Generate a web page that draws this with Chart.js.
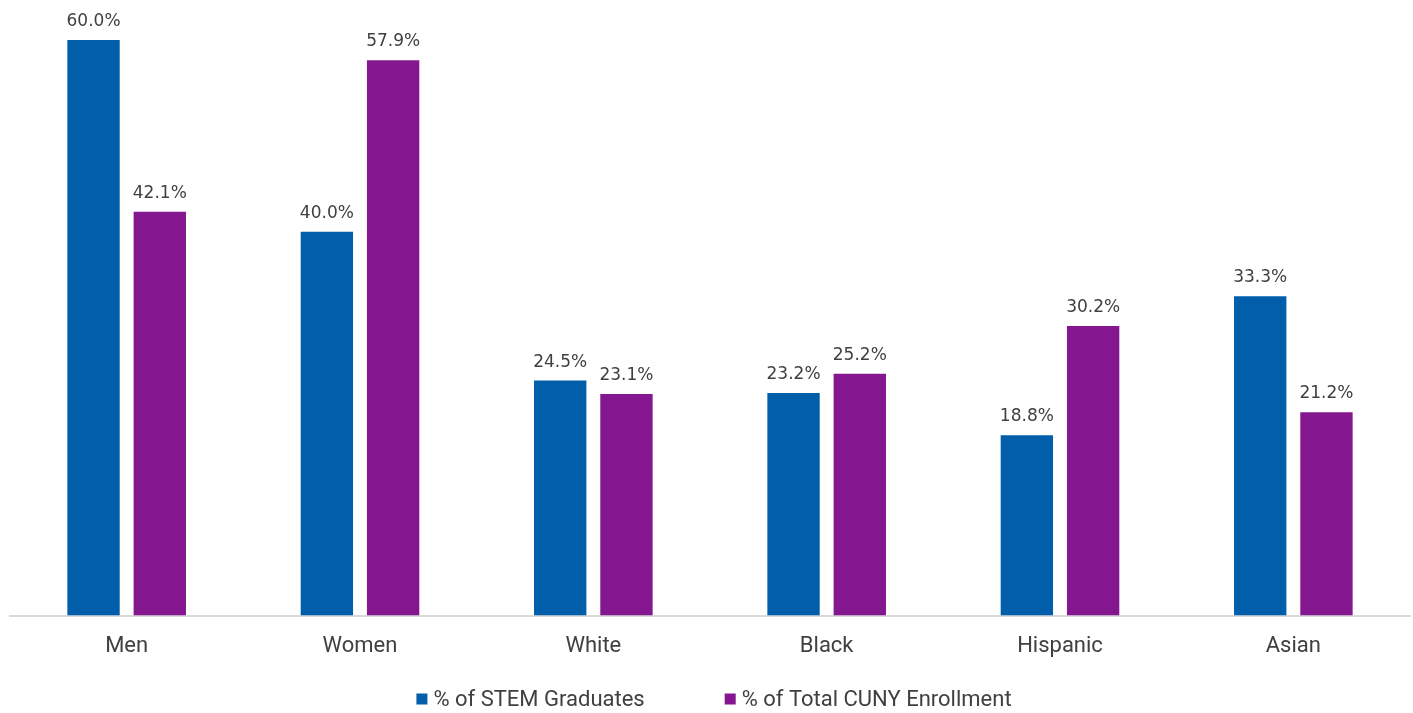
<!DOCTYPE html>
<html>
<head>
<meta charset="utf-8">
<script src="https://cdn.jsdelivr.net/npm/chart.js@4"></script>
<style>
  html, body { margin: 0; padding: 0; background: #fff; }
  #wrap { width: 1413px; height: 713px; }
</style>
</head>
<body>
<div id="wrap"><canvas id="chart" width="1413" height="713"></canvas></div>
<script>
const categories = ['Men', 'Women', 'White', 'Black', 'Hispanic', 'Asian']
const stemGraduates = [60.0, 40.0, 24.5, 23.2, 18.8, 33.3]
const totalEnrollment = [42.1, 57.9, 23.1, 25.2, 30.2, 21.2]
const seriesNames = ['% of STEM Graduates', '% of Total CUNY Enrollment']
const seriesColors = ['#005EAB', '#84178F']

const fontFamily = 'Roboto, "Liberation Sans", sans-serif'
const valueFont = '17px "DejaVu Sans", sans-serif'
const textColor = '#404040'

// writes the value above every bar
const valueLabels = {
  id: 'valueLabels',
  afterDatasetsDraw (chart) {
    const ctx = chart.ctx
    ctx.save()
    ctx.font = valueFont
    ctx.fillStyle = textColor
    ctx.textAlign = 'center'
    ctx.textBaseline = 'alphabetic'
    chart.data.datasets.forEach((dataset, i) => {
      chart.getDatasetMeta(i).data.forEach((bar, j) => {
        ctx.fillText(dataset.data[j].toFixed(1) + '%', bar.x, bar.y - 14)
      })
    })
    ctx.restore()
  }
}

// legend drawn under the axis, with wide spacing between the two entries
const bottomLegend = {
  id: 'bottomLegend',
  afterDraw (chart) {
    const ctx = chart.ctx
    const box = 11
    const gap = 6
    const spacing = 80
    const y = 699
    ctx.save()
    ctx.font = '22px ' + fontFamily
    ctx.textBaseline = 'middle'
    ctx.textAlign = 'left'
    const items = chart.data.datasets.map(ds => ({
      text: ds.label,
      color: ds.backgroundColor,
      width: box + gap + ctx.measureText(ds.label).width
    }))
    const total = items.reduce((sum, it) => sum + it.width, 0) + spacing * (items.length - 1)
    let x = (chart.chartArea.left + chart.chartArea.right) / 2 - total / 2 + 4
    items.forEach(it => {
      ctx.fillStyle = it.color
      ctx.fillRect(x, y - box / 2, box, box)
      ctx.fillStyle = textColor
      ctx.fillText(it.text, x + box + gap, y + 1)
      x += it.width + spacing
    })
    ctx.restore()
  }
}

const data = {
  labels: categories,
  datasets: [{
    label: seriesNames[0],
    data: stemGraduates,
    backgroundColor: seriesColors[0],
    borderWidth: 0,
    categoryPercentage: 0.568,
    barPercentage: 0.79
  }, {
    label: seriesNames[1],
    data: totalEnrollment,
    backgroundColor: seriesColors[1],
    borderWidth: 0,
    categoryPercentage: 0.568,
    barPercentage: 0.79
  }]
}

const options = {
  responsive: false,
  animation: false,
  layout: {
    padding: { top: 40, left: 10, right: 3, bottom: 43 }
  },
  plugins: {
    tooltip: { enabled: false },
    legend: { display: false }
  },
  scales: {
    x: {
      grid: { display: false },
      border: { color: '#d9d9d9', width: 2 },
      ticks: {
        color: textColor,
        padding: 10,
        font: { size: 22, family: fontFamily }
      }
    },
    y: {
      display: false,
      min: 0,
      max: 60
    }
  }
}

new Chart(document.querySelector('#chart'), {
  type: 'bar',
  data,
  options,
  plugins: [valueLabels, bottomLegend]
})
</script>
</body>
</html>
